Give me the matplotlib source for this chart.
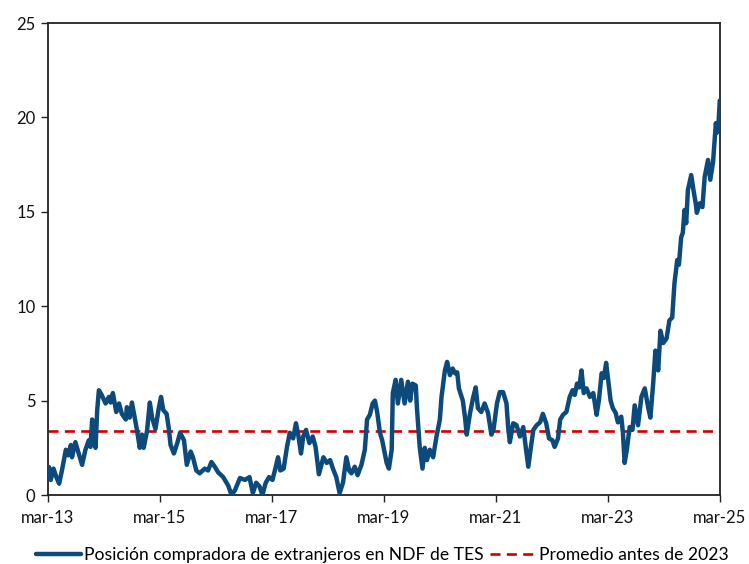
import matplotlib
matplotlib.use("Agg")
import matplotlib.pyplot as plt

plt.rcParams['font.family'] = ['Lato', 'DejaVu Sans']

# Fecha en años decimales (mar-13 = 2013.17)
fechas = [
    2013.17, 2013.19, 2013.22, 2013.27, 2013.32, 2013.37, 2013.42, 2013.49, 2013.53, 2013.58,
    2013.60, 2013.66, 2013.72, 2013.78, 2013.84, 2013.90, 2013.93, 2013.96, 2014.00, 2014.02,
    2014.05, 2014.08, 2014.13, 2014.20, 2014.26, 2014.29, 2014.33, 2014.39, 2014.44, 2014.49,
    2014.56, 2014.58, 2014.63, 2014.67, 2014.72, 2014.76, 2014.81, 2014.85, 2014.88, 2014.94,
    2014.99, 2015.03, 2015.09, 2015.15, 2015.19, 2015.23, 2015.29, 2015.33, 2015.36, 2015.42,
    2015.48, 2015.53, 2015.60, 2015.65, 2015.72, 2015.76, 2015.82, 2015.88, 2015.97, 2016.03,
    2016.09, 2016.15, 2016.21, 2016.30, 2016.39, 2016.45, 2016.51, 2016.60, 2016.69, 2016.77,
    2016.83, 2016.89, 2016.95, 2017.00, 2017.06, 2017.12, 2017.18, 2017.24, 2017.28, 2017.32,
    2017.38, 2017.44, 2017.49, 2017.55, 2017.60, 2017.64, 2017.69, 2017.73, 2017.78, 2017.84,
    2017.90, 2017.95, 2018.01, 2018.09, 2018.15, 2018.21, 2018.26, 2018.32, 2018.38, 2018.44,
    2018.50, 2018.55, 2018.59, 2018.65, 2018.70, 2018.77, 2018.83, 2018.87, 2018.92, 2018.97,
    2019.01, 2019.05, 2019.10, 2019.14, 2019.22, 2019.26, 2019.31, 2019.33, 2019.38, 2019.42,
    2019.48, 2019.54, 2019.60, 2019.64, 2019.68, 2019.74, 2019.76, 2019.81, 2019.86, 2019.90,
    2019.94, 2019.99, 2020.05, 2020.11, 2020.17, 2020.20, 2020.26, 2020.30, 2020.35, 2020.40,
    2020.44, 2020.48, 2020.51, 2020.58, 2020.62, 2020.65, 2020.71, 2020.76, 2020.81, 2020.85,
    2020.91, 2020.97, 2021.03, 2021.09, 2021.13, 2021.19, 2021.24, 2021.30, 2021.36, 2021.39,
    2021.42, 2021.48, 2021.54, 2021.60, 2021.66, 2021.71, 2021.75, 2021.79, 2021.84, 2021.90,
    2021.96, 2022.01, 2022.07, 2022.12, 2022.18, 2022.22, 2022.28, 2022.32, 2022.37, 2022.43,
    2022.49, 2022.54, 2022.58, 2022.62, 2022.66, 2022.70, 2022.74, 2022.79, 2022.85, 2022.91,
    2022.97, 2023.01, 2023.06, 2023.10, 2023.14, 2023.17, 2023.22, 2023.26, 2023.31, 2023.35,
    2023.41, 2023.44, 2023.47, 2023.51, 2023.56, 2023.61, 2023.65, 2023.71, 2023.77, 2023.83,
    2023.89, 2023.93, 2023.98, 2024.02, 2024.07, 2024.11, 2024.16, 2024.22, 2024.27, 2024.32,
    2024.36, 2024.41, 2024.44, 2024.48, 2024.51, 2024.54, 2024.57, 2024.60, 2024.66, 2024.70,
    2024.74, 2024.76, 2024.81, 2024.86, 2024.90, 2024.96, 2025.00, 2025.05, 2025.10, 2025.12,
    2025.15, 2025.17,
]

# Posición compradora de extranjeros en NDF de TES
posicion = [
    1.2, 1.48, 0.8, 1.4, 0.95, 0.6, 1.3, 2.4, 2.1, 2.65,
    2.0, 2.8, 2.2, 1.6, 2.4, 2.9, 2.55, 4.0, 3.4, 2.5,
    4.5, 5.55, 5.3, 4.85, 5.2, 4.9, 5.4, 4.4, 4.85, 4.3,
    4.0, 4.65, 4.1, 4.9, 4.1, 3.45, 2.5, 3.2, 2.5, 3.4,
    4.9, 4.1, 3.5, 4.6, 5.2, 4.5, 4.3, 3.5, 2.65, 2.2,
    2.75, 3.3, 2.9, 1.6, 2.3, 2.0, 1.3, 1.15, 1.4, 1.3,
    1.75, 1.5, 1.2, 0.95, 0.5, 0.0, 0.25, 0.9, 0.8, 0.95,
    0.1, 0.65, 0.45, 0.0, 0.65, 0.95, 0.8, 1.5, 2.0, 1.3,
    1.4, 2.55, 3.3, 3.0, 3.8, 3.2, 2.2, 3.1, 3.45, 2.75,
    3.1, 2.55, 1.1, 2.0, 1.7, 1.85, 1.4, 0.95, 0.1, 0.65,
    2.0, 1.3, 1.15, 1.5, 1.05, 1.6, 2.4, 4.0, 4.25, 4.85,
    5.0, 4.4, 3.3, 2.9, 1.7, 1.4, 2.4, 5.4, 6.1, 4.85,
    6.1, 4.85, 6.0, 5.0, 5.9, 5.8, 4.65, 2.55, 1.4, 2.5,
    1.85, 2.4, 2.0, 3.1, 4.0, 5.2, 6.6, 7.05, 6.35, 6.7,
    6.45, 6.5, 5.65, 5.0, 4.1, 3.2, 4.35, 5.1, 5.7, 4.6,
    4.4, 4.85, 4.35, 3.2, 3.5, 4.85, 5.45, 5.45, 4.85, 3.6,
    2.8, 3.8, 3.7, 3.1, 3.6, 2.4, 1.5, 2.4, 3.45, 3.7,
    3.85, 4.3, 3.8, 3.0, 2.9, 2.55, 3.0, 4.0, 4.25, 4.4,
    5.2, 5.55, 5.3, 5.9, 5.7, 6.6, 5.4, 5.65, 5.2, 5.4,
    4.25, 5.0, 6.45, 6.2, 7.0, 6.25, 5.0, 4.6, 4.35, 3.85,
    4.15, 3.3, 1.7, 2.4, 3.6, 3.45, 4.75, 3.7, 5.2, 5.65,
    4.65, 4.1, 5.9, 7.65, 6.6, 8.7, 8.05, 8.3, 9.25, 9.4,
    11.2, 12.45, 12.2, 13.65, 13.9, 15.1, 14.4, 16.15, 16.95, 16.15,
    15.45, 14.95, 15.45, 15.25, 16.85, 17.75, 16.7, 17.65, 19.7, 19.2,
    19.85, 20.9,
]

promedio_pre_2023 = 3.4

tick_fechas = [2013.17, 2015.17, 2017.17, 2019.17, 2021.17, 2023.17, 2025.17]
tick_labels = ["mar-13", "mar-15", "mar-17", "mar-19", "mar-21", "mar-23", "mar-25"]
y_ticks = [0, 5, 10, 15, 20, 25]

fig = plt.figure(figsize=(7.49, 5.64), dpi=100)
ax = fig.add_axes([0.064, 0.1223, 0.897, 0.8368])

ax.plot(fechas, posicion, color="#0B4A7B", lw=3.2, solid_joinstyle="round",
        solid_capstyle="round",
        label="Posición compradora de extranjeros en NDF de TES", zorder=3)
ax.axhline(promedio_pre_2023, color="#D00000", lw=1.9, dashes=(3.8, 2.4),
           label="Promedio antes de 2023", zorder=2)

ax.set_xlim(tick_fechas[0], tick_fechas[-1])
ax.set_ylim(0, 25)
ax.set_xticks(tick_fechas)
ax.set_xticklabels(tick_labels)
ax.set_yticks(y_ticks)

for s in ax.spines.values():
    s.set_linewidth(1.3)
    s.set_color("#222222")
ax.tick_params(axis="both", direction="out", length=5, width=1.0,
               labelsize=12, colors="#222222", labelcolor="#111111")
ax.tick_params(axis="x", pad=6)
ax.tick_params(axis="y", pad=4)

fig.legend(loc="lower center", bbox_to_anchor=(0.51, -0.027), ncol=2, frameon=False,
           fontsize=12.6, handlelength=2.6, columnspacing=0.4, handletextpad=0.15)

fig.savefig("out.png", dpi=100)
